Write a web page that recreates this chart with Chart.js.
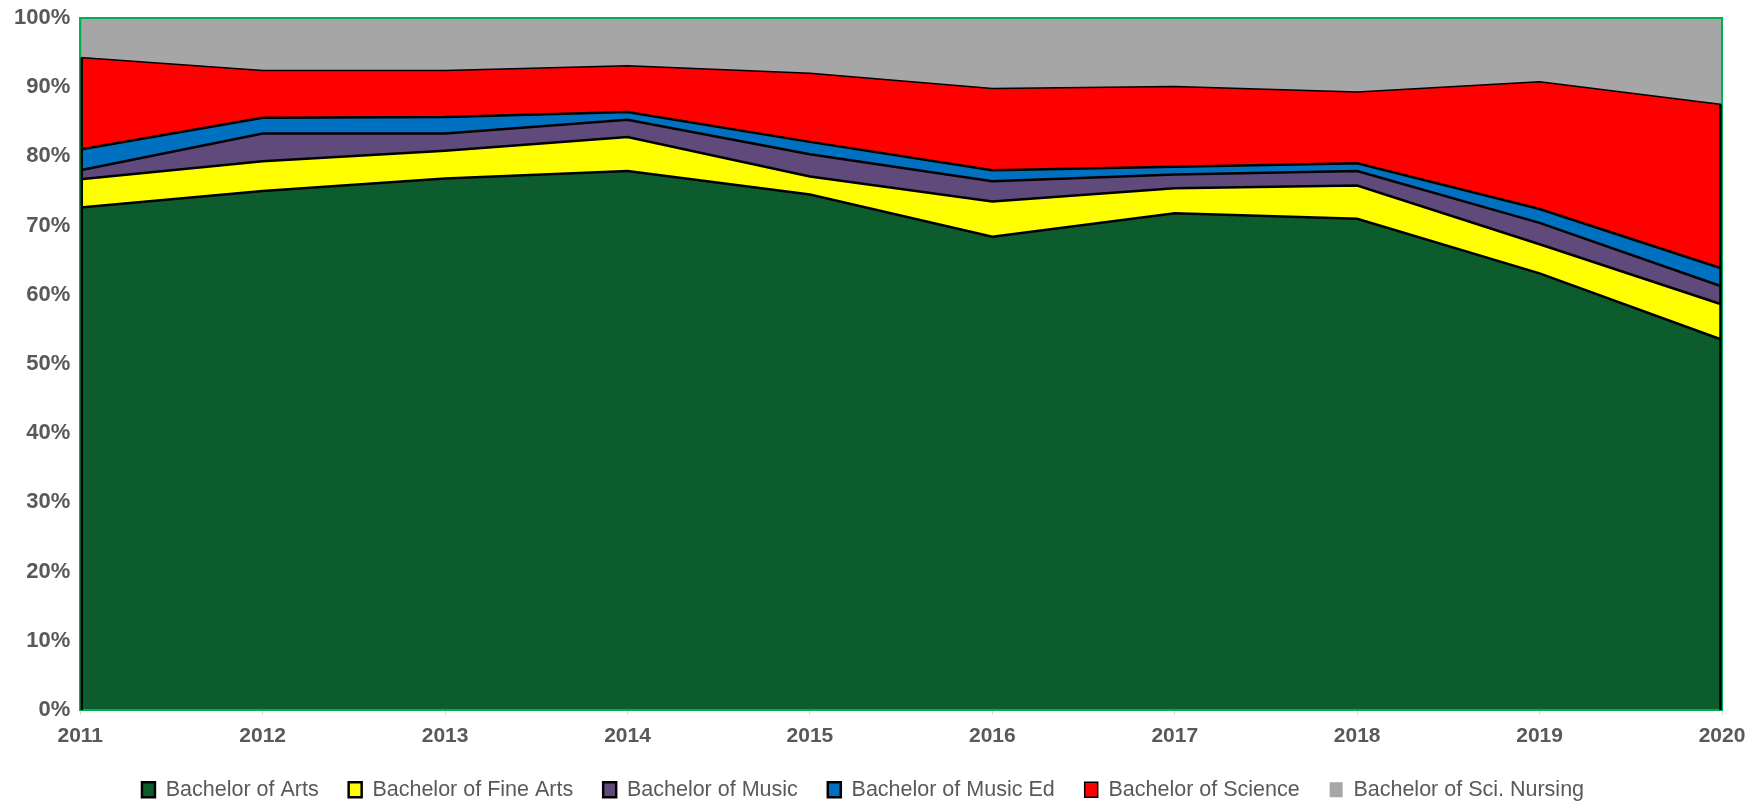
<!DOCTYPE html>
<html>
<head>
<meta charset="utf-8">
<script src="https://cdn.jsdelivr.net/npm/chart.js@4.4.1/dist/chart.umd.min.js"></script>
<style>
  html, body { margin: 0; padding: 0; background: #fff; }
  #wrap { width: 1758px; height: 806px; }
</style>
</head>
<body>
<div id="wrap"><canvas id="degree-chart"></canvas></div>
<script>
// share of degrees awarded, percent per year
const years = ["2011","2012","2013","2014","2015","2016","2017","2018","2019","2020"];
const arts      = [72.6, 75.0, 76.8, 77.9, 74.5, 68.4, 71.8, 71.0, 63.1, 53.5];
const fineArts  = [4.1, 4.3, 4.0, 4.9, 2.6, 5.1, 3.6, 4.8, 4.2, 5.1];
const music     = [1.3, 4.0, 2.5, 2.5, 3.2, 2.9, 2.0, 2.1, 3.1, 2.6];
const musicEd   = [3.0, 2.3, 2.4, 1.1, 1.8, 1.6, 1.1, 1.1, 2.0, 2.6];
const science   = [13.3, 6.8, 6.7, 6.7, 9.9, 11.8, 11.6, 10.3, 18.4, 23.7];
const nursing   = [5.7, 7.6, 7.6, 6.9, 8.0, 10.2, 9.9, 10.7, 9.2, 12.5];
const yTicks = [0,10,20,30,40,50,60,70,80,90,100];

const labelFont = "'Liberation Sans', Arial, sans-serif";
const textGrey = '#595959';

// green frame round the plot + black side edges of the areas
const frame = {
  id: 'frame',
  afterDatasetsDraw(chart) {
    const {ctx, chartArea: a, scales} = chart;
    ctx.save();
    ctx.strokeStyle = '#00b050';
    ctx.lineWidth = 2;
    ctx.strokeRect(a.left, a.top, a.right - a.left, a.bottom - a.top);
    const lastIdx = years.length - 1;
    [0, lastIdx].forEach(i => {
      let top = 0;
      chart.data.datasets.forEach(ds => { if (ds.borderWidth > 0) top += ds.data[i]; });
      const x = scales.x.getPixelForValue(i) + (i === 0 ? 1.5 : -1.5);
      ctx.strokeStyle = '#000';
      ctx.lineWidth = 2.5;
      ctx.beginPath();
      ctx.moveTo(x, scales.y.getPixelForValue(0));
      ctx.lineTo(x, scales.y.getPixelForValue(top));
      ctx.stroke();
    });
    ctx.restore();
  }
};

function area(label, data, color, fill, bw) {
  return {
    label: label,
    data: data,
    backgroundColor: color,
    borderColor: '#000',
    borderWidth: bw,
    pointRadius: 0,
    tension: 0,
    fill: fill
  };
}

new Chart(document.getElementById("degree-chart"), {
  type: 'line',
  data: {
    labels: years,
    datasets: [
      area("Bachelor of Arts", arts, '#0d5c2e', 'origin', 2.5),
      area("Bachelor of Fine Arts", fineArts, '#ffff00', '-1', 2.5),
      area("Bachelor of Music", music, '#604a7b', '-1', 2.5),
      area("Bachelor of Music Ed", musicEd, '#0070c0', '-1', 2.5),
      area("Bachelor of Science", science, '#ff0000', '-1', 1.5),
      area("Bachelor of Sci. Nursing", nursing, '#a6a6a6', '-1', 0)
    ]
  },
  options: {
    responsive: true,
    maintainAspectRatio: false,
    animation: false,
    layout: { padding: { left: 4, right: 36, top: 0, bottom: -4.5 } },
    scales: {
      x: {
        stacked: true,
        offset: false,
        grid: { drawOnChartArea: false, drawTicks: true, tickLength: 5, color: '#d9d9d9' },
        border: { display: true, color: '#00b050', width: 2 },
        ticks: { color: textGrey, font: { family: labelFont, size: 21, weight: 'bold' }, padding: 9, maxRotation: 0 },
        afterFit: axis => { axis.height = 39; }
      },
      y: {
        stacked: true,
        min: 0,
        max: 100,
        afterBuildTicks: axis => { axis.ticks = yTicks.map(v => ({ value: v })); },
        afterFit: axis => { axis.paddingTop = 18; },
        grid: { display: false, drawTicks: false },
        border: { display: true, color: '#00b050', width: 2 },
        ticks: {
          color: textGrey,
          font: { family: labelFont, size: 22, weight: 'bold' },
          padding: 10,
          callback: function(value) { return value + '%'; }
        }
      }
    },
    plugins: {
      legend: {
        display: true,
        position: 'bottom',
        labels: {
          color: textGrey,
          font: { family: labelFont, size: 21.5 },
          boxWidth: 13,
          boxHeight: 15,
          padding: 30
        }
      },
      tooltip: { enabled: false }
    }
  },
  plugins: [frame]
});
</script>
</body>
</html>
